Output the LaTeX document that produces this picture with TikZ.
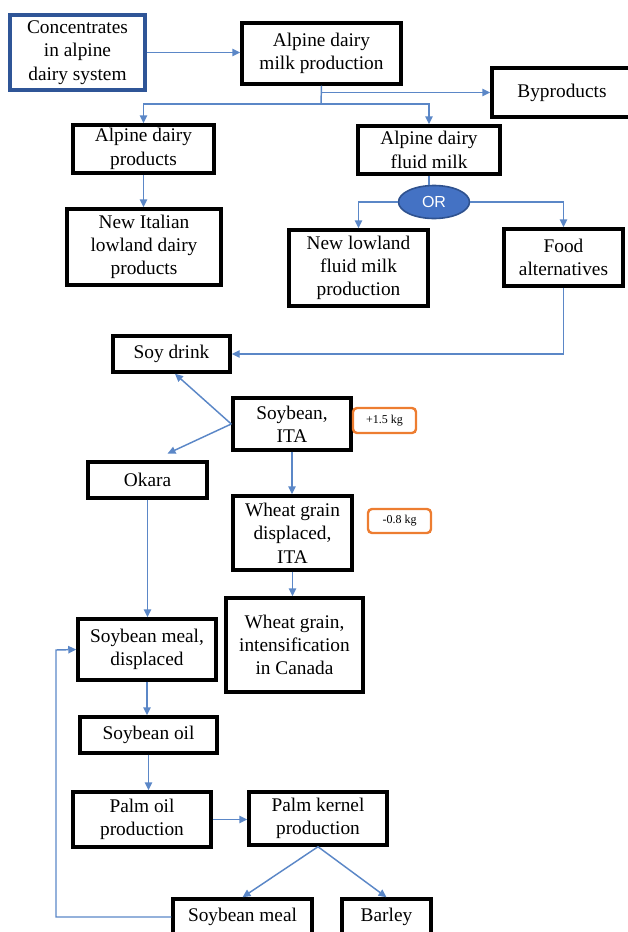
\documentclass[tikz,border=0pt]{standalone}
\usepackage{fontspec}
\setmainfont{Liberation Serif}
\newfontfamily\orfont{Liberation Sans}
\usetikzlibrary{arrows.meta,shapes.geometric}
\definecolor{linkblue}{RGB}{91,135,199}
\definecolor{framblue}{RGB}{47,85,151}
\definecolor{orfill}{RGB}{68,114,196}
\definecolor{orline}{RGB}{47,82,143}
\definecolor{kgorange}{RGB}{237,125,49}
\begin{document}
\begin{tikzpicture}[x=0.75pt,y=-0.75pt,
  box/.style={rectangle,draw,line width=2.6pt,align=center,inner sep=2pt,
    font=\fontsize{14.5}{17.5}\selectfont},
  sized/.style 2 args={minimum width=#1*0.75pt,minimum height=#2*0.75pt},
  kgbox/.style={rectangle,draw=kgorange,line width=1.8pt,rounded corners=3pt,
    inner sep=1pt,font=\fontsize{9}{10}\selectfont},
  arr/.style={draw=linkblue,line width=1.1pt,-{Triangle[length=6pt,width=5.5pt]}},
  lnk/.style={draw=linkblue,line width=1.1pt}]
\useasboundingbox (0,0) rectangle (628,932);
% upper part: alpine milk
\node[box,sized={135}{75},draw=framblue] (conc) at (77.5,52.5) {Concentrates\\in alpine\\dairy system};
\node[box,sized={159}{61}] (milk) at (321.5,53.5) {Alpine dairy\\milk production};
\node[box,sized={140}{49}] (byp) at (562,92.5) {Byproducts};
\node[box,sized={141}{48}] (prod) at (143.5,149) {Alpine dairy\\products};
\node[box,sized={142}{48}] (fluid) at (429,150) {Alpine dairy\\fluid milk};
\node[box,sized={154}{76}] (ital) at (144,247) {New Italian\\lowland dairy\\products};
\node[ellipse,draw=orline,fill=orfill,line width=1.2pt,minimum width=71*0.75pt,minimum height=33*0.75pt,
  inner sep=0pt,text=white,font=\orfont\fontsize{12}{14}\selectfont] (or) at (434,202) {OR};
\node[box,sized={139}{76}] (lowl) at (358.5,268) {New lowland\\fluid milk\\production};
\node[box,sized={119}{57}] (food) at (563.5,257.5) {Food\\alternatives};
% soybean chain
\node[box,sized={117}{36}] (sdrink) at (171.5,354) {Soy drink};
\node[box,sized={118}{52}] (soyb) at (292,424) {Soybean,\\ITA};
\node[kgbox,sized={63}{25}] (plus) at (384.5,420.5) {+1.5 kg};
\node[box,sized={119}{36}] (okara) at (147.5,480) {Okara};
\node[box,sized={119}{74}] (wdisp) at (292.5,533) {Wheat grain\\displaced,\\ITA};
\node[kgbox,sized={63}{24}] (minus) at (399.5,521) {-0.8 kg};
\node[box,sized={137}{94}] (wint) at (294.5,645) {Wheat grain,\\intensification\\in Canada};
\node[box,sized={138}{61}] (smd) at (147,649.5) {Soybean meal,\\displaced};
\node[box,sized={137}{36}] (oil) at (148.5,735) {Soybean oil};
\node[box,sized={138}{55}] (palm) at (142,819.5) {Palm oil\\production};
\node[box,sized={138}{53}] (kern) at (318,818.5) {Palm kernel\\production};
\node[box,sized={139}{44},text depth=9pt] (sm) at (242.5,921) {Soybean meal};
\node[box,sized={89}{44},text depth=9pt] (barley) at (386.5,921) {Barley};
\coordinate (split) at (321,104);
\coordinate (loop) at (56,650);

\draw[arr] (conc.east) -- (conc.east -| milk.west);
\path[lnk] (milk.south) -- (split);
\draw[arr] (split) -| (prod.north);
\draw[arr] (split) -| (fluid.north);
\draw[arr] (milk.south |- byp.west) -- (byp.west);
\draw[arr] (prod.south) -- (prod.south |- ital.north);
\path[lnk] (fluid.south) -- (fluid.south |- or.north);
\draw[arr] (or.west) -| (lowl.north);
\draw[arr] (or.east) -| (food.north);
\draw[arr] (food.south) |- (sdrink.east);
\draw[arr] (soyb.west) -- ([xshift=2.6pt]sdrink.south);
\draw[arr] (soyb.west) -- ([xshift=15pt,yshift=5pt]okara.north);
\draw[arr] (soyb.south) -- (soyb.south |- wdisp.north);
\draw[arr] (okara.south) -- (okara.south |- smd.north);
\draw[arr] (wdisp.south) -- (wdisp.south |- wint.north);
\draw[arr] (smd.south) -- (smd.south |- oil.north);
\draw[arr] (oil.south) -- (oil.south |- palm.north);
\draw[arr] (palm.east) -- (palm.east -| kern.west);
\draw[arr] (kern.south) -- (sm.north);
\draw[arr] (kern.south) -- (barley.north);
\draw[arr] ([yshift=3pt]sm.west) -| (loop) -- (smd.west);
\end{tikzpicture}
\end{document}
